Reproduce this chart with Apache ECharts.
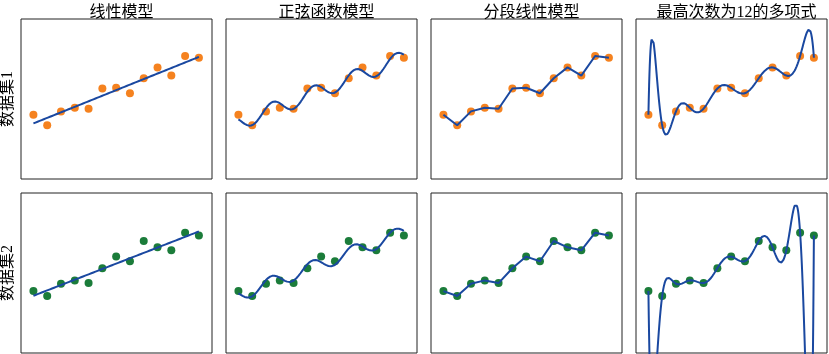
<!DOCTYPE html>
<html>
<head>
<meta charset="utf-8">
<script src="https://cdn.jsdelivr.net/npm/echarts@6/dist/echarts.min.js"></script>
<style>
  html, body { margin: 0; padding: 0; background: #fff; }
  #main { width: 829px; height: 354px; }
</style>
</head>
<body>
<div id="main"></div>
<script>
// 数据
var xs = [0, 1, 2, 3, 4, 5, 6, 7, 8, 9, 10, 11, 12];
var data1 = [6.43, 5.37, 6.76, 7.13, 7.03, 9.05, 9.12, 8.58, 10.07, 11.16, 10.34, 12.30, 12.13];
var data2 = [6.19, 5.70, 6.93, 7.26, 6.99, 8.48, 9.64, 9.18, 11.20, 10.57, 10.27, 12.03, 11.76];
var modelNames = ['线性模型', '正弦函数模型', '分段线性模型', '最高次数为12的多项式'];
var rowNames = ['数据集1', '数据集2'];
var omega = 2.1;

var font = '"Liberation Serif", "Noto Sans CJK SC"';
var lineColor = '#1a48a0';
var dotColors = ['#f5821f', '#1b7c3a'];

// 线性拟合
function fitLinear(y) {
    var n = xs.length, sx = 0, sy = 0, sxx = 0, sxy = 0;
    for (var i = 0; i < n; i++) {
        sx += xs[i]; sy += y[i]; sxx += xs[i] * xs[i]; sxy += xs[i] * y[i];
    }
    var b = (n * sxy - sx * sy) / (n * sxx - sx * sx);
    var a = (sy - b * sx) / n;
    return function (x) { return a + b * x; };
}

// 解线性方程组
function solve(A, b) {
    var n = b.length;
    for (var i = 0; i < n; i++) {
        var p = i;
        for (var r = i + 1; r < n; r++) if (Math.abs(A[r][i]) > Math.abs(A[p][i])) p = r;
        var t = A[i]; A[i] = A[p]; A[p] = t;
        var tb = b[i]; b[i] = b[p]; b[p] = tb;
        for (var r = i + 1; r < n; r++) {
            var f = A[r][i] / A[i][i];
            for (var c = i; c < n; c++) A[r][c] -= f * A[i][c];
            b[r] -= f * b[i];
        }
    }
    var x = new Array(n);
    for (var i = n - 1; i >= 0; i--) {
        var s = b[i];
        for (var c = i + 1; c < n; c++) s -= A[i][c] * x[c];
        x[i] = s / A[i][i];
    }
    return x;
}

// 正弦函数模型: a + b*x + c*sin(wx) + d*cos(wx)
function fitSine(y) {
    var basis = function (x) { return [1, x, Math.sin(omega * x), Math.cos(omega * x)]; };
    var A = [[0,0,0,0],[0,0,0,0],[0,0,0,0],[0,0,0,0]], b = [0,0,0,0];
    for (var i = 0; i < xs.length; i++) {
        var f = basis(xs[i]);
        for (var r = 0; r < 4; r++) {
            b[r] += f[r] * y[i];
            for (var c = 0; c < 4; c++) A[r][c] += f[r] * f[c];
        }
    }
    var k = solve(A, b);
    return function (x) {
        var f = basis(x);
        return k[0] * f[0] + k[1] * f[1] + k[2] * f[2] + k[3] * f[3];
    };
}

// 12次多项式（经过全部13个点）
function fitPoly(y) {
    return function (x) {
        var s = 0;
        for (var i = 0; i < xs.length; i++) {
            var l = 1;
            for (var j = 0; j < xs.length; j++) {
                if (j !== i) l *= (x - xs[j]) / (xs[i] - xs[j]);
            }
            s += y[i] * l;
        }
        return s;
    };
}

function sample(fn) {
    var out = [];
    for (var k = 0; k <= 480; k++) {
        var x = k * 12 / 480;
        out.push([x, fn(x)]);
    }
    return out;
}

var myChart = echarts.init(document.getElementById('main'));

var lefts = [21, 226, 431, 636];
var tops = [19, 193];
var pw = 191, ph = 160;

var grid = [], xAxis = [], yAxis = [], series = [], title = [];
var datasets = [data1, data2];

for (var r = 0; r < 2; r++) {
    var y = datasets[r];
    var pts = xs.map(function (x, i) { return [x, y[i]]; });
    var curves = [sample(fitLinear(y)), sample(fitSine(y)), pts, sample(fitPoly(y))];
    for (var c = 0; c < 4; c++) {
        var idx = r * 4 + c;
        grid.push({
            left: lefts[c], top: tops[r], width: pw, height: ph,
            show: true, borderColor: '#222', borderWidth: 1, backgroundColor: '#fff'
        });
        xAxis.push({
            type: 'value', gridIndex: idx, min: -0.9, max: 12.95,
            axisLine: { show: false }, axisTick: { show: false },
            axisLabel: { show: false }, splitLine: { show: false }
        });
        yAxis.push({
            type: 'value', gridIndex: idx, min: 0, max: 16,
            axisLine: { show: false }, axisTick: { show: false },
            axisLabel: { show: false }, splitLine: { show: false }
        });
        series.push({
            type: 'scatter', xAxisIndex: idx, yAxisIndex: idx,
            data: pts, symbolSize: 8, z: 2,
            itemStyle: { color: dotColors[r], opacity: 1 }
        });
        series.push({
            type: 'line', xAxisIndex: idx, yAxisIndex: idx,
            data: curves[c], showSymbol: false, smooth: false, clip: true, z: 3,
            lineStyle: { color: lineColor, width: 2 }
        });
    }
}

for (var c = 0; c < 4; c++) {
    title.push({
        text: modelNames[c], left: lefts[c] + pw / 2, top: 0, textAlign: 'center',
        textStyle: { fontFamily: font, fontSize: 16, fontWeight: 'normal', color: '#000' }
    });
}

var option = {
    animation: false,
    title: title,
    grid: grid,
    xAxis: xAxis,
    yAxis: yAxis,
    series: series,
    graphic: rowNames.map(function (name, r) {
        return {
            type: 'text', x: 8, y: tops[r] + ph / 2, rotation: Math.PI / 2,
            style: {
                text: name, fontFamily: font, fontSize: 16, fill: '#000',
                textAlign: 'center', textVerticalAlign: 'middle'
            }
        };
    })
};

myChart.setOption(option);
</script>
</body>
</html>
